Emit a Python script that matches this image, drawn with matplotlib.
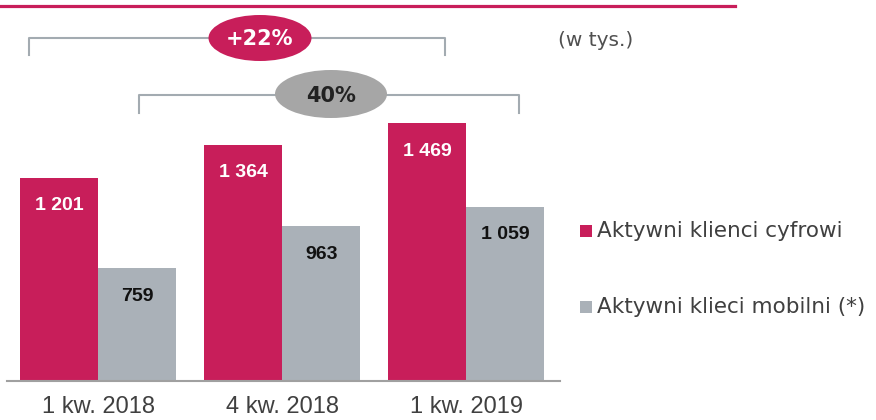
import matplotlib
matplotlib.use("Agg")
import matplotlib.pyplot as plt
from matplotlib.patches import Ellipse
import numpy as np

categories = ["1 kw. 2018", "4 kw. 2018", "1 kw. 2019"]
digital = [1201, 1364, 1469]
mobile = [759, 963, 1059]
digital_labels = ["1 201", "1 364", "1 469"]
mobile_labels = ["759", "963", "1 059"]
series_names = ["Aktywni klienci cyfrowi", "Aktywni klieci mobilni (*)"]
growth_labels = ["+22%", "40%"]
unit_label = "(w tys.)"

MAGENTA = "#C81E5A"
GRAY = "#AAB1B8"
W, H = 876, 420

fig = plt.figure(figsize=(W / 100, H / 100), dpi=100)

def fx(px):
    return px / W

def fy(py):
    return 1 - py / H

ax = fig.add_axes([fx(7), fy(381), fx(560) - fx(7), fy(0) - fy(381)])
x = np.arange(len(categories))
bw = 0.424
ax.bar(x - bw / 2, digital, bw, color=MAGENTA, zorder=2)
ax.bar(x + bw / 2, mobile, bw, color=GRAY, zorder=2)
ax.set_ylim(206, 2072)
ax.set_xlim(-0.495, 2.51)

for xi, v, lab in zip(x, digital, digital_labels):
    ax.annotate(lab, (xi - bw / 2, v), xytext=(0, -28), textcoords="offset pixels",
                ha="center", va="center", color="white", fontsize=14,
                fontweight="bold", family="Liberation Sans")
for xi, v, lab in zip(x, mobile, mobile_labels):
    ax.annotate(lab, (xi + bw / 2, v), xytext=(0, -28), textcoords="offset pixels",
                ha="center", va="center", color="#111111", fontsize=14,
                fontweight="bold", family="Liberation Sans")

for s in ["top", "right", "left"]:
    ax.spines[s].set_visible(False)
ax.spines["bottom"].set_color("#A0A0A0")
ax.spines["bottom"].set_linewidth(1.5)
ax.set_yticks([])
ax.set_xticks(x)
ax.set_xticklabels(categories, fontsize=17, color="#404040", family="Liberation Sans")
ax.tick_params(axis="x", length=0, pad=11)

# top magenta rule
fig.add_artist(plt.Line2D([fx(0), fx(735)], [fy(6), fy(6)], color=MAGENTA, lw=2.3))

# brackets
BR = "#A3ABB1"
def bracket(x0, x1, y, y2):
    fig.add_artist(plt.Line2D([fx(x0), fx(x0), fx(x1), fx(x1)],
                              [fy(y2), fy(y), fy(y), fy(y2)], color=BR, lw=1.5, zorder=1))
bracket(29, 445, 38, 55)
bracket(139, 519, 95, 113)

e1 = Ellipse((fx(260), fy(38)), fx(103), 46 / H, transform=fig.transFigure,
             facecolor=MAGENTA, edgecolor="none", zorder=3)
fig.add_artist(e1)
fig.text(fx(260), fy(39), growth_labels[0], ha="center", va="center", color="white",
         fontsize=15, fontweight="bold", family="DejaVu Sans", zorder=4)
e2 = Ellipse((fx(331), fy(94)), fx(112), 48 / H, transform=fig.transFigure,
             facecolor="#A6A6A6", edgecolor="none", zorder=3)
fig.add_artist(e2)
fig.text(fx(331), fy(96), growth_labels[1], ha="center", va="center", color="#222222",
         fontsize=15, fontweight="bold", family="DejaVu Sans", zorder=4)

fig.text(fx(558), fy(40), unit_label, ha="left", va="center", color="#505050",
         fontsize=14.5, family="DejaVu Sans")

# legend
for i, (name, col) in enumerate(zip(series_names, [MAGENTA, GRAY])):
    yy = [231, 307][i]
    fig.add_artist(plt.Rectangle((fx(580), fy(yy + 6)), fx(12), 12 / H,
                                 transform=fig.transFigure, facecolor=col, edgecolor="none"))
    fig.text(fx(597), fy(yy), name, ha="left", va="center", color="#404040",
             fontsize=15.5, family="DejaVu Sans")

fig.savefig("out.png", dpi=100)
